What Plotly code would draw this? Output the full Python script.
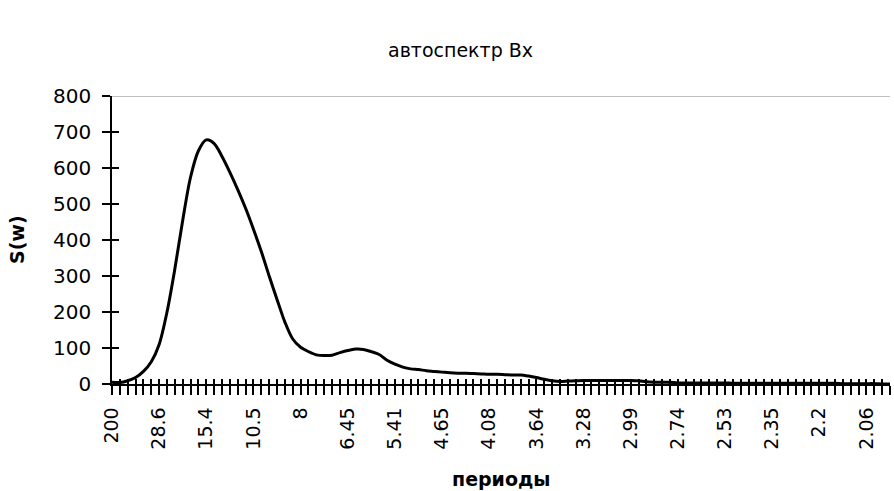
import plotly.graph_objects as go

# Auto-spectrum of Bx: spectral density per harmonic number k (period = 200 / k)
harmonic = list(range(1, 101))
spectrum = [
    5, 4, 9, 18, 35, 62, 110, 200, 320, 455,
    575, 648, 678, 668, 632, 588, 540, 488, 430, 368,
    300, 235, 172, 125, 102, 90, 81, 79, 80, 87,
    93, 97, 96, 90, 82, 66, 55, 47, 42, 40,
    37, 35, 33, 31, 30, 30, 29, 28, 27, 27,
    26, 25, 25, 22, 18, 13, 9, 7, 8, 9,
    10, 10, 10, 10, 10, 10, 10, 9, 6, 5,
    5, 5, 3, 3, 3, 3, 3, 3, 3, 2,
    2, 2, 2, 2, 2, 2, 2, 2, 2, 2,
    2, 2, 2, 1, 1, 1, 1, 1, 0, 0,
]

# period labels shown on every sixth category (k = 1, 7, 13, ...)
period_labels = ["200", "28.6", "15.4", "10.5", "8", "6.45", "5.41", "4.65", "4.08",
                 "3.64", "3.28", "2.99", "2.74", "2.53", "2.35", "2.2", "2.06"]
label_step = 6

y_ticks = [0, 100, 200, 300, 400, 500, 600, 700, 800]

tick_text = []
for k in harmonic:
    idx = (k - 1) // label_step
    tick_text.append(period_labels[idx] if (k - 1) % label_step == 0 and idx < len(period_labels) else "")

FONT = "DejaVu Sans, Arial, sans-serif"

fig = go.Figure()
fig.add_trace(go.Scatter(
    x=harmonic, y=spectrum, mode="lines",
    line=dict(color="black", width=3, shape="spline", smoothing=0.9),
    hoverinfo="x+y", showlegend=False,
))
# invisible trace on the overlay axes so the inner halves of the cross ticks are drawn
fig.add_trace(go.Scatter(x=harmonic, y=spectrum, xaxis="x2", yaxis="y2",
                         mode="lines", line=dict(width=0), opacity=0,
                         hoverinfo="skip", showlegend=False))

fig.add_shape(type="line", xref="x", yref="y", x0=1, x1=100, y0=800, y1=800,
              line=dict(color="#808080", width=1))

fig.update_layout(
    width=894, height=491,
    margin=dict(l=112, r=4, t=96, b=107),
    paper_bgcolor="white", plot_bgcolor="white",
    font=dict(family=FONT, size=19, color="black"),
    xaxis=dict(
        range=[1, 100], tickmode="array", tickvals=harmonic, ticktext=tick_text,
        tickangle=-90, ticks="outside", ticklen=9, tickwidth=1.5, tickcolor="black",
        ticklabelstandoff=5,
        showline=True, linecolor="black", linewidth=1.5, showgrid=False, zeroline=False,
        tickfont=dict(size=19),
    ),
    yaxis=dict(
        range=[0, 800], tickmode="array", tickvals=y_ticks,
        ticks="outside", ticklen=8, tickwidth=1.5, tickcolor="black",
        ticklabelstandoff=7,
        showline=True, linecolor="black", linewidth=1.5, showgrid=False, zeroline=False,
        tickfont=dict(size=20),
    ),
    xaxis2=dict(range=[1, 100], overlaying="x", tickmode="array", tickvals=harmonic,
                ticks="inside", ticklen=5, tickwidth=1.5, tickcolor="black",
                showticklabels=False, showgrid=False, zeroline=False, showline=False),
    yaxis2=dict(range=[0, 800], overlaying="y", tickmode="array", tickvals=y_ticks,
                ticks="inside", ticklen=7, tickwidth=1.5, tickcolor="black",
                showticklabels=False, showgrid=False, zeroline=False, showline=False),
    annotations=[
        dict(text="автоспектр Вх", xref="paper", yref="paper", x=0, y=1,
             xshift=348, yshift=46, showarrow=False, font=dict(size=19),
             xanchor="center", yanchor="middle"),
        dict(text="<b>S(w)</b>", xref="paper", yref="paper", x=0, y=0.5,
             xshift=-95, showarrow=False, textangle=-90, font=dict(size=19),
             xanchor="center", yanchor="middle"),
        dict(text="<b>периоды</b>", xref="paper", yref="paper", x=0.5, y=0,
             yshift=-95, showarrow=False, font=dict(size=19),
             xanchor="center", yanchor="middle"),
    ],
)

fig.write_html("out.html")
